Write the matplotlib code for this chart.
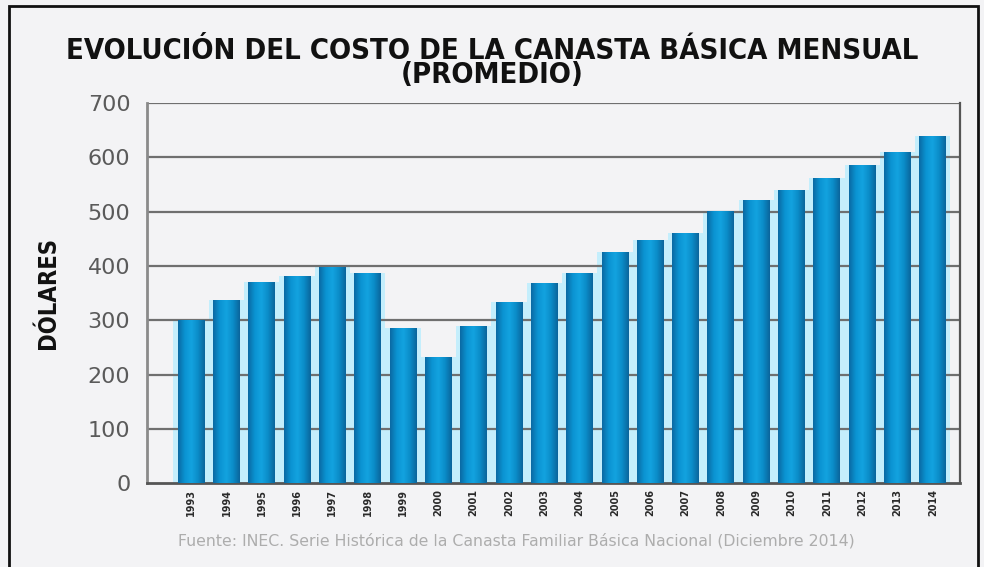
import numpy as np
import matplotlib.pyplot as plt
from matplotlib.colors import LinearSegmentedColormap
from matplotlib.patches import Rectangle

years = ['1993', '1994', '1995', '1996', '1997', '1998', '1999', '2000',
         '2001', '2002', '2003', '2004', '2005', '2006', '2007', '2008',
         '2009', '2010', '2011', '2012', '2013', '2014']
costo = [300, 338, 370, 381, 399, 388, 286, 232, 289, 334, 369,
         387, 426, 447, 461, 501, 522, 540, 563, 587, 610, 639]
yticks = [0, 100, 200, 300, 400, 500, 600, 700]

fig = plt.figure(figsize=(9.84, 5.67), dpi=100, facecolor='#f3f3f5')
ax = fig.add_axes([0.1494, 0.148, 0.8262, 0.67])
ax.set_facecolor('#f3f3f5')

x = np.arange(len(years))

# halo claro detras de cada barra
ax.bar(x, costo, width=1.0, color='#c4eefc', zorder=1)
bars = ax.bar(x, costo, width=0.76, color='#0a8fcc', zorder=3)

# degradado horizontal dentro de cada barra
cmap = LinearSegmentedColormap.from_list(
    'barra', ['#0a6aa3', '#0b93d2', '#13a3e0', '#0b8cc8', '#0a659c'])
grad = np.linspace(0, 1, 64).reshape(1, -1)
for b in bars:
    im = ax.imshow(grad, cmap=cmap, aspect='auto', zorder=4,
                   extent=[b.get_x(), b.get_x() + b.get_width(), 0, b.get_height()])
    im.set_clip_path(b)

ax.set_xlim(-1.25, len(years) - 0.23)
ax.set_ylim(0, 700)
ax.set_aspect('auto')

for v in yticks[1:]:
    ax.axhline(v, color='#6f6f6f', lw=1.6, zorder=2)

ax.set_yticks(yticks)
ax.set_yticklabels([str(v) for v in yticks], fontsize=16, color='#5a5a5a')
ax.set_xticks(x)
ax.set_xticklabels(years, rotation=90, fontsize=7, fontweight='bold',
                   color='#2a2a2a')
ax.tick_params(axis='both', length=0, pad=4)
ax.tick_params(axis='y', pad=12)

ax.spines['top'].set_visible(False)
ax.spines['left'].set_color('#8a8a8a')
ax.spines['left'].set_linewidth(2)
ax.spines['bottom'].set_color('#555555')
ax.spines['bottom'].set_linewidth(2)
ax.spines['right'].set_color('#555555')
ax.spines['right'].set_linewidth(1.6)

ax.set_ylabel('DÓLARES', fontsize=17, fontweight='bold', color='#111111',
              fontstretch='condensed', labelpad=20)

fig.text(0.5, 0.889,
         'EVOLUCIÓN DEL COSTO DE LA CANASTA BÁSICA MENSUAL\n(PROMEDIO)',
         ha='center', va='center', multialignment='center', fontsize=21,
         fontweight='bold', fontstretch='condensed', color='#111111',
         linespacing=0.85)

fig.text(0.525, 0.047,
         'Fuente: INEC. Serie Histórica de la Canasta Familiar Básica Nacional (Diciembre 2014)',
         ha='center', va='center', fontsize=11.3, color='#adadad')

# marco exterior
fig.patches.append(Rectangle((0.009, -0.02), 0.985, 1.01, transform=fig.transFigure,
                             fill=False, edgecolor='#111111', lw=2))

fig.savefig('out.png', dpi=100, facecolor=fig.get_facecolor())
